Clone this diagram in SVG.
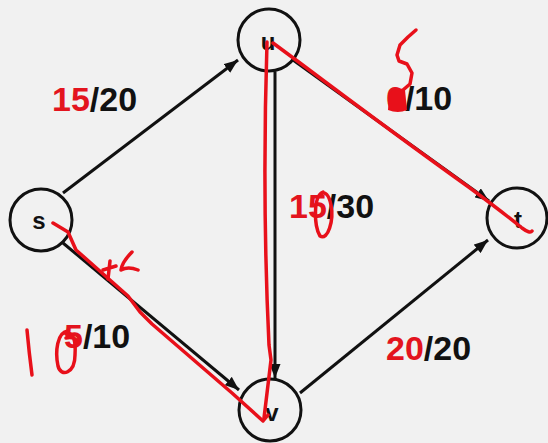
<svg xmlns="http://www.w3.org/2000/svg" width="548" height="443" viewBox="0 0 548 443">
<style>
.node circle{fill:none;stroke:#111;stroke-width:3}
.node text{font-family:"Liberation Sans",Arial,sans-serif;font-weight:bold;font-size:24px;fill:#111;text-anchor:middle}
.edge{stroke:#111;stroke-width:3;fill:none;marker-end:url(#ah)}
.lbl{font-family:"Liberation Sans",Arial,sans-serif;font-weight:bold;font-size:34px;fill:#111}
.r{fill:#e3141e}
.ink{fill:none;stroke:#e8101a;stroke-width:3.5;stroke-linecap:round;stroke-linejoin:round}
</style>
<defs>
<marker id="ah" markerUnits="userSpaceOnUse" markerWidth="14" markerHeight="11" refX="14" refY="5.5" orient="auto">
<path d="M0,0 L14,5.5 L0,11 z" fill="#111"/>
</marker>
</defs>
<rect width="548" height="443" fill="#f1f1f1"/>
<g id="connectors">
<path class="edge" d="M63,193 L238,60"/>
<path class="edge" d="M275,72 L275,378"/>
<path class="edge" d="M63,243 L239,390"/>
<path class="edge" d="M293,60 L489,201"/>
<path class="edge" d="M300,393 L488,240"/>
</g>
<g id="node-s" class="node"><circle cx="41" cy="220" r="31"/><text x="39" y="229">s</text></g>
<g id="node-u" class="node"><circle cx="269" cy="40" r="31"/><text x="268" y="50">u</text></g>
<g id="node-v" class="node"><circle cx="270" cy="410" r="31"/><text x="272" y="421">v</text></g>
<g id="node-t" class="node"><circle cx="517" cy="218" r="30"/><text x="518" y="228">t</text></g>
<g id="labels">
<text class="lbl" x="52" y="111"><tspan class="r">15</tspan>/20</text>
<text class="lbl" x="386" y="110"><tspan class="r">0</tspan>/10</text>
<text class="lbl" x="289" y="218"><tspan class="r">15</tspan>/30</text>
<text class="lbl" x="64" y="348"><tspan class="r">5</tspan>/10</text>
<text class="lbl" x="386" y="360"><tspan class="r">20</tspan>/20</text>
</g>
<g id="annotations">
<path class="ink" d="M273,43 L300,63 Q400,138 470,188 Q505,214 522,228 Q530,234 532,231"/>
<path class="ink" d="M267,42 Q262,200 269,345 L271,360 L264,418"/>
<path class="ink" d="M53,223 L68,232 L76,250 L128,296 L140,312 L152,324 L232,393 L263,421 L268,415"/>
<path class="ink" d="M416,30 L408,37 L400,45 L397,55 L399,61 L407,64 L412,73 L410,84 L403,90"/>
<path d="M389,93 Q396,86 405,90 L407,110 Q398,114 388,110 Z" fill="#e8101a"/>
<path class="ink" d="M103,270 L116,266 M110,261 L108,279 M132,252 Q122,262 121,270 Q128,266 138,270"/>
<path class="ink" d="M27,330 Q29,352 32,375"/>
<path class="ink" d="M68,331 C57,332 55,352 58,366 C61,378 75,373 75,355 C76,340 73,331 66,334 M66,338 Q74,336 78,342"/>
<path class="ink" d="M323,192 C313,196 314,226 320,236 C328,241 334,220 331,205 C329,195 325,190 320,195"/>
</g>
</svg>
